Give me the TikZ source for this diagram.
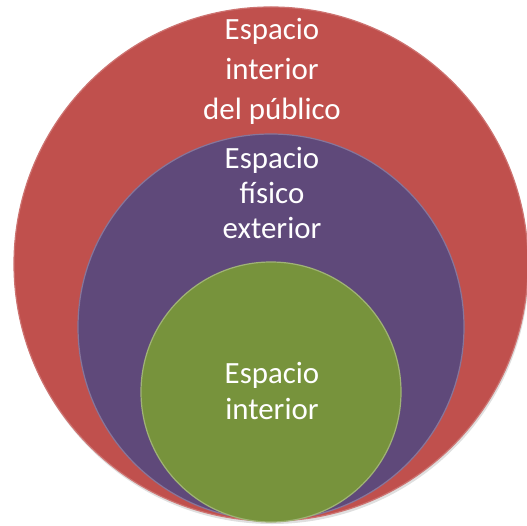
\documentclass[tikz,border=0pt]{standalone}
\usepackage{fontspec}
\setmainfont{Carlito}
\usepackage{xcolor}
\usetikzlibrary{shadows}

\definecolor{publicored}{HTML}{C0504D}
\definecolor{fisicopurple}{HTML}{5F497A}
\definecolor{interiorgreen}{HTML}{77933C}

\begin{document}
\begin{tikzpicture}[x=1bp, y=-1bp,
    ring/.style={circle, inner sep=0pt, line width=1.2bp},
    ringtext/.style={text=white, align=center, inner sep=0pt, anchor=north}]
    \useasboundingbox (0, 0) rectangle (527, 526);

    % Circles
    \node[ring, fill=publicored, draw=publicored!80!white, minimum size=514bp,
          drop shadow={opacity=0.25, shadow xshift=1bp, shadow yshift=-3bp}] (publico) at (271, 264) {};
    \node[ring, fill=fisicopurple, draw=fisicopurple!75!white, minimum size=386bp] (fisico) at (271, 327) {};
    \node[ring, fill=interiorgreen, draw=interiorgreen!70!white, minimum size=260bp] (interior) at (271, 392) {};

    % Labels
    \node[ringtext, font=\fontsize{31}{40}\selectfont] (publicolabel) at (272, 18) {Espacio\\interior\\del público};
    \node[ringtext, font=\fontsize{31}{35}\selectfont] (fisicolabel) at (272, 147) {Espacio\\físico\\exterior};
    \node[ringtext, font=\fontsize{31}{36}\selectfont] (interiorlabel) at (272, 362) {Espacio\\interior};
\end{tikzpicture}
\end{document}
